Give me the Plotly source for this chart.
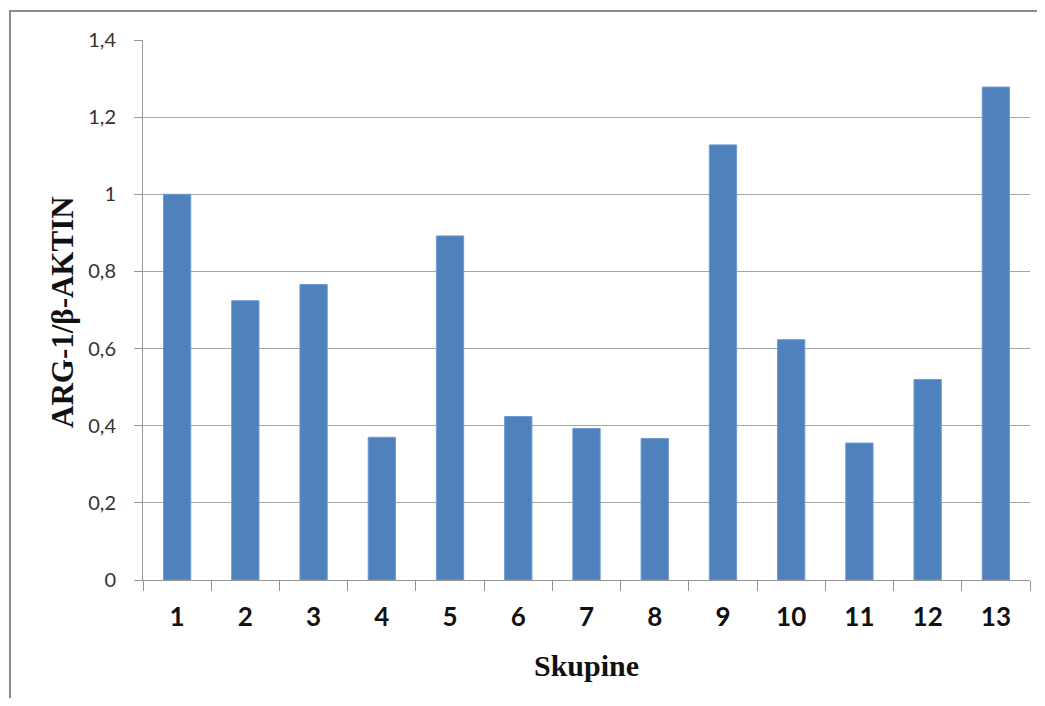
import plotly.graph_objects as go

categories = ["1", "2", "3", "4", "5", "6", "7", "8", "9", "10", "11", "12", "13"]
values = [1.0, 0.724, 0.766, 0.370, 0.892, 0.424, 0.393, 0.367, 1.128, 0.623, 0.355, 0.520, 1.278]
y_ticks = [0, 0.2, 0.4, 0.6, 0.8, 1.0, 1.2, 1.4]
x_title = "Skupine"
y_title = "ARG-1/β-AKTIN"

OFF = 8  # page body margin
W, H = 1037, 690
L, T = 143 - OFF, 40 - OFF
R = W - (1030 - OFF)
B = H - (580 - OFF)
pw, ph = W - L - R, H - T - B


def px_x(x):
    return (x - OFF - L) / pw


def px_y(y):
    return ((580 - OFF) - (y - OFF)) / ph


fig = go.Figure(go.Bar(
    x=categories, y=values,
    marker=dict(color="#4f81bd", line=dict(color="#6f9bd0", width=1)),
))

fig.update_layout(
    width=W, height=H,
    margin=dict(l=L, r=R, t=T, b=B),
    paper_bgcolor="white", plot_bgcolor="white",
    separators=",.",
    bargap=0.6,
    showlegend=False,
    xaxis=dict(
        type="category",
        showline=True, linecolor="#969696", linewidth=1,
        ticks="outside", tickson="boundaries", ticklen=10, tickcolor="#969696",
        tickfont=dict(family="Lato, Noto Sans, sans-serif", size=26, color="#111111", weight="bold"),
        ticklabelstandoff=14,
        showgrid=False,
    ),
    yaxis=dict(
        range=[0, 1.4], tickvals=y_ticks,
        showline=True, linecolor="#969696", linewidth=1,
        ticks="outside", ticklen=8, tickcolor="#969696",
        tickfont=dict(family="Lato, Noto Sans, sans-serif", size=20, color="#333333"),
        ticklabelstandoff=14,
        showgrid=True, gridcolor="#a6a6a6", gridwidth=1,
        zeroline=False,
    ),
    annotations=[
        dict(text=x_title, xref="paper", yref="paper", x=px_x(586), y=px_y(665),
             showarrow=False, xanchor="center", yanchor="middle",
             font=dict(family="Liberation Serif, Times New Roman, serif", size=30, color="#111111", weight="bold")),
        dict(text=y_title, xref="paper", yref="paper", x=px_x(62), y=px_y(312),
             showarrow=False, xanchor="center", yanchor="middle", textangle=-90,
             font=dict(family="Liberation Serif, Times New Roman, serif", size=31, color="#111111", weight="bold")),
    ],
    shapes=[
        dict(type="rect", xref="paper", yref="paper",
             x0=px_x(10), x1=px_x(1080),
             y0=px_y(760), y1=px_y(11),
             line=dict(color="#8c8c8c", width=2), fillcolor="rgba(0,0,0,0)", layer="below"),
    ],
)

fig.write_html("out.html")
